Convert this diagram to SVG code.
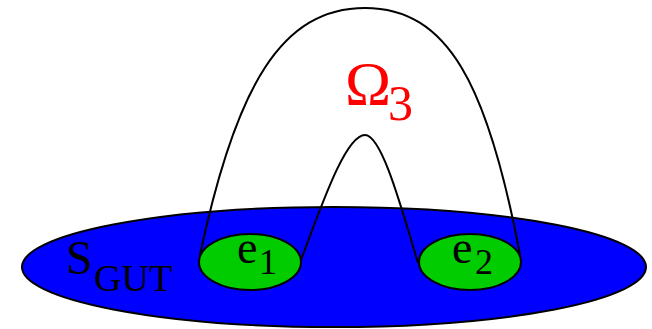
<svg xmlns="http://www.w3.org/2000/svg" width="652" height="329" viewBox="0 0 652 329">
<style>
.lbl{font-family:"Liberation Serif","Times New Roman",serif;fill:#000}
.red{font-family:"Liberation Serif","Times New Roman",serif;fill:#ff0000}
.edge{fill:none;stroke:#000;stroke-width:2}
.disk{stroke:#000;stroke-width:2}
</style>
<rect width="652" height="329" fill="#fff"/>
<g id="sgut">
<ellipse class="disk" cx="334" cy="267" rx="312" ry="60" fill="#0000ff"/>
<text class="lbl" x="66" y="274" font-size="48">S</text>
<text class="lbl" x="94" y="291" font-size="38">GUT</text>
</g>
<g id="connectors">
<path class="edge" d="M200,255 C236,85 282,8 365,8 C448,8 488,85 520,255"/>
<path class="edge" d="M301,260 C320,210 345,135 365,135 C382,135 402,210 418,263"/>
</g>
<g id="omega3">
<text class="red" x="345" y="104" font-size="62">Ω</text>
<text class="red" x="388" y="120" font-size="50">3</text>
</g>
<g id="e1">
<ellipse class="disk" cx="250" cy="262" rx="51" ry="28" fill="#00cc00"/>
<text class="lbl" x="237" y="263" font-size="46">e</text>
<text class="lbl" x="259" y="274" font-size="36">1</text>
</g>
<g id="e2">
<ellipse class="disk" cx="470" cy="262" rx="51" ry="28" fill="#00cc00"/>
<text class="lbl" x="452" y="263" font-size="46">e</text>
<text class="lbl" x="475" y="274" font-size="36">2</text>
</g>
</svg>
